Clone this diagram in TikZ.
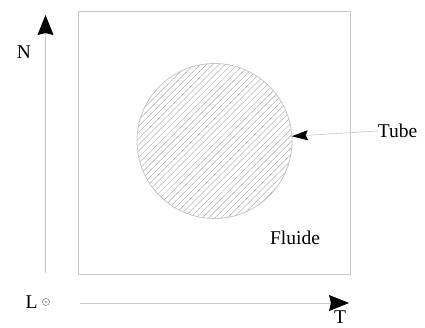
\documentclass[tikz,border=0pt]{standalone}
\usepackage{fontspec}
\setmainfont{Liberation Serif}
\usetikzlibrary{arrows.meta,patterns.meta}
\colorlet{frame color}{black!22}
\tikzset{
    x={1pt},
    y={-1pt},
    frame/.style={
        draw=frame color,
        line width={0.8pt},
    },
    axis/.style={
        draw=frame color,
        line width={0.8pt},
        -{Stealth[length=20pt,width=16pt,inset=2pt,color=black]},
    },
    pointer/.style={
        draw=frame color,
        line width={0.6pt},
        -{Stealth[length=16pt,width=10pt,inset=2pt,color=black]},
    },
    hatched tube/.style={
        circle, draw=frame color,
        line width={0.8pt},
        minimum size={155},
        inner sep=0pt, outer sep=0pt,
        pattern={Lines[angle=45,distance=4.4pt,line width=0.5pt]},
        pattern color=black!30,
    },
    figure label/.style={
        font={\fontsize{19.5}{22}\selectfont},
        inner sep=0pt,
    },
}

\begin{document}
\begin{tikzpicture}
\useasboundingbox (0,0) rectangle (425,327);
% domain
\path[frame] (78,11) rectangle (350,274);
\node[hatched tube] (tube) at (214.5,141) {};
% labels
\node[figure label] (tube label) at (397.5,131) {Tube};
\node[figure label] (fluide label) at (295,238) {Fluide};
% axes
\coordinate (n start) at (45.5,273);
\coordinate (n end) at (45.5,15);
\coordinate (t start) at (80,303);
\coordinate (t end) at (349,303);
\draw[axis] (n start) -- (n end);
\draw[axis] (t start) -- (t end);
\node[figure label] (n label) at (24,52) {N};
\node[figure label, anchor=north] (t label) at (340,311) {T};
\node[figure label] (l label) at (31.5,302) {L};
\node[circle, draw=black!50, line width={0.5pt}, minimum size={7}, inner sep=0pt] (l dot) at (46,302) {};
\fill[black!60] (l dot.center) circle (0.9);
% pointer
\draw[pointer] (tube label.west) -- (tube);
\end{tikzpicture}
\end{document}
